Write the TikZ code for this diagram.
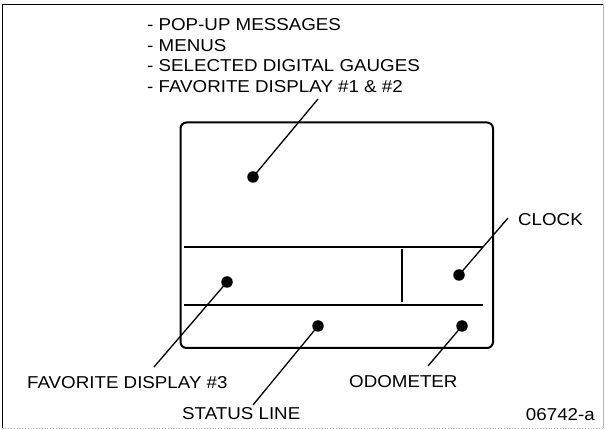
\documentclass[tikz,border=0pt]{standalone}
\usepackage{fontspec}
\setmainfont[FakeStretch=1.09]{Liberation Sans}
\begin{document}
\begin{tikzpicture}[x=1pt,y=-1pt,
  lbl/.style={anchor=base west,inner sep=0pt,font=\fontsize{17.2}{20}\selectfont},
  dot/.style={circle,fill=black,inner sep=0pt,minimum size=11.5pt},
  leader/.style={line width=1.3pt},
  panel/.style={line width=2pt}]
\useasboundingbox (0,0) rectangle (606,430);
\fill[white] (0,0) rectangle (606,430);
% outer frame
\draw[line width=1.4pt] (2.5,428) -- (2.5,4.5) -- (603,4.5);
\draw[gray!60,line width=0.8pt] (603,4.5) -- (603,428);
\draw[gray!60,line width=0.8pt,dotted] (2.5,428) -- (603,428);
% display
\draw[panel,rounded corners=6pt] (180.5,122.5) rectangle (493,348);
\draw[panel] (184,247) -- (483,247);
\draw[panel] (184,305) -- (483,305);
\draw[panel] (402,249) -- (402,302.5);
% dots
\node[dot] (dmain) at (253,177) {};
\node[dot] (dclock) at (459,275) {};
\node[dot] (dfav) at (227,282) {};
\node[dot] (dstatus) at (318,326) {};
\node[dot] (dodo) at (462,326) {};
% leader ends
\coordinate (emain) at (318,99);
\coordinate (eclock) at (508,218);
\coordinate (efav) at (154,367);
\coordinate (estatus) at (253,405);
\coordinate (eodo) at (428,366);
\draw[leader] (dmain.center) -- (emain);
\draw[leader] (dclock.center) -- (eclock);
\draw[leader] (dfav.center) -- (efav);
\draw[leader] (dstatus.center) -- (estatus);
\draw[leader] (dodo.center) -- (eodo);
% labels
\node[lbl] (t1) at (147,31) {- POP-UP MESSAGES};
\node[lbl] (t2) at (147,51.5) {- MENUS};
\node[lbl] (t3) at (147,72) {- SELECTED DIGITAL GAUGES};
\node[lbl] (t4) at (147,92.5) {- FAVORITE DISPLAY \#1 \& \#2};
\node[lbl] (tclock) at (518,226) {CLOCK};
\node[lbl] (tfav) at (27,389) {FAVORITE DISPLAY \#3};
\node[lbl] (todo) at (349,388) {ODOMETER};
\node[lbl] (tstatus) at (182,420) {STATUS LINE};
\node[lbl,anchor=base east] (tcode) at (595,420.5) {06742-a};
\end{tikzpicture}
\end{document}
